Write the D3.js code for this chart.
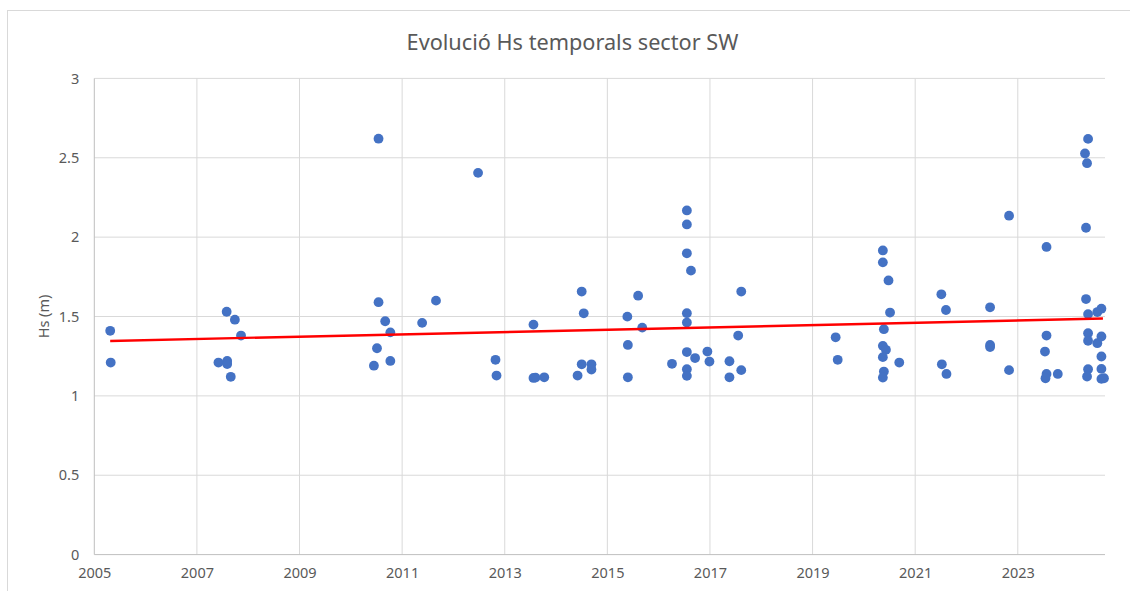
<!DOCTYPE html>
<html>
<head>
<meta charset="utf-8">
<script src="https://cdn.jsdelivr.net/npm/d3@7"></script>
<style>
  body { margin: 0; background: #fff; }
  text { font-family: "Noto Sans", "Open Sans", sans-serif; fill: #595959; }
</style>
</head>
<body>
<script>
// values (decimal year, Hs in metres)
const years = [
  2005.31, 2005.32,
  2007.42, 2007.58, 2007.59, 2007.59, 2007.66, 2007.74, 2007.86,
  2010.45, 2010.51, 2010.54, 2010.54, 2010.67, 2010.77, 2010.77,
  2011.39, 2011.66,
  2012.48, 2012.82, 2012.84,
  2013.56, 2013.56, 2013.60, 2013.77,
  2014.42, 2014.50, 2014.50, 2014.54, 2014.69, 2014.69,
  2015.39, 2015.40, 2015.40, 2015.60, 2015.68,
  2016.26, 2016.55, 2016.55, 2016.55, 2016.63, 2016.55, 2016.55, 2016.55, 2016.55, 2016.55,
  2016.71, 2016.95, 2016.99,
  2017.38, 2017.38, 2017.55, 2017.61, 2017.61,
  2019.45, 2019.49,
  2020.37, 2020.37, 2020.48, 2020.51, 2020.39, 2020.37, 2020.43, 2020.37, 2020.69, 2020.39, 2020.37,
  2021.51, 2021.60, 2021.52, 2021.61,
  2022.46, 2022.46, 2022.46, 2022.83, 2022.83,
  2023.56, 2023.56, 2023.53, 2023.56, 2023.54, 2023.78,
  2024.37, 2024.31, 2024.35, 2024.33, 2024.33, 2024.37, 2024.37, 2024.37, 2024.37, 2024.35,
  2024.55, 2024.55,
  2024.63, 2024.63, 2024.63, 2024.63, 2024.63, 2024.68
];
const hs = [
  1.41, 1.21,
  1.21, 1.53, 1.22, 1.20, 1.12, 1.48, 1.38,
  1.19, 1.30, 2.62, 1.59, 1.47, 1.40, 1.22,
  1.46, 1.60,
  2.405, 1.227, 1.128,
  1.449, 1.113, 1.115, 1.117,
  1.128, 1.199, 1.657, 1.520, 1.199, 1.166,
  1.499, 1.321, 1.117, 1.631, 1.430,
  1.202, 2.168, 2.080, 1.898, 1.789, 1.521, 1.462, 1.276, 1.168, 1.126,
  1.238, 1.279, 1.216,
  1.218, 1.117, 1.380, 1.657, 1.162,
  1.369, 1.227,
  1.916, 1.841, 1.727, 1.525, 1.420, 1.315, 1.290, 1.244, 1.210, 1.153, 1.115,
  1.640, 1.541, 1.199, 1.138,
  1.558, 1.321, 1.308, 2.135, 1.162,
  1.938, 1.380, 1.279, 1.138, 1.111, 1.138,
  2.619, 2.527, 2.466, 2.059, 1.610, 1.515, 1.395, 1.347, 1.168, 1.122,
  1.528, 1.332,
  1.549, 1.374, 1.248, 1.170, 1.107, 1.111
];
// linear trendline end points as drawn
const trendYears = [2005.31, 2024.66];
const trendHs = [1.346, 1.487];

const xTicks = [2005, 2007, 2009, 2011, 2013, 2015, 2017, 2019, 2021, 2023];
const yTicks = [0, 0.5, 1, 1.5, 2, 2.5, 3];

const titleText = "Evolució Hs temporals sector SW";
const yTitle = "Hs (m)";

const W = 1130, H = 591;
const plot = { left: 94.3, right: 1105, top: 78.4, bottom: 554.6 };

const svg = d3.select("body").append("svg")
  .attr("width", W)
  .attr("height", H);

// chart area border
svg.append("rect")
  .attr("x", 7.5).attr("y", 10.5)
  .attr("width", W + 10).attr("height", H + 10)
  .attr("fill", "#fff")
  .attr("stroke", "#d9d9d9")
  .attr("stroke-width", 1);

const x = d3.scaleLinear().domain([2005, 2024.70]).range([plot.left, plot.right]);
const y = d3.scaleLinear().domain([0, 3]).range([plot.bottom, plot.top]);

// gridlines
svg.append("g").selectAll("line")
  .data(yTicks.filter(d => d > 0))
  .join("line")
  .attr("x1", plot.left).attr("x2", plot.right)
  .attr("y1", d => y(d)).attr("y2", d => y(d))
  .attr("stroke", "#d9d9d9").attr("stroke-width", 1);

svg.append("g").selectAll("line")
  .data(xTicks.filter(d => d > 2005))
  .join("line")
  .attr("x1", d => x(d)).attr("x2", d => x(d))
  .attr("y1", plot.top).attr("y2", plot.bottom)
  .attr("stroke", "#d9d9d9").attr("stroke-width", 1);

// axis lines
svg.append("line")
  .attr("x1", plot.left).attr("x2", plot.right)
  .attr("y1", plot.bottom).attr("y2", plot.bottom)
  .attr("stroke", "#bfbfbf").attr("stroke-width", 1);
svg.append("line")
  .attr("x1", plot.left).attr("x2", plot.left)
  .attr("y1", plot.top).attr("y2", plot.bottom)
  .attr("stroke", "#bfbfbf").attr("stroke-width", 1);

// axes (labels only)
const xAxis = svg.append("g")
  .attr("transform", `translate(0, ${plot.bottom})`)
  .call(d3.axisBottom(x).tickValues(xTicks).tickSize(0).tickPadding(13).tickFormat(d3.format("d")));
xAxis.select(".domain").remove();
xAxis.selectAll("text")
  .attr("fill", "#595959")
  .style("font-size", "14.5px")
  .style("font-family", "'Noto Sans', 'Open Sans', sans-serif");

const yAxis = svg.append("g")
  .attr("transform", `translate(${plot.left}, 0)`)
  .call(d3.axisLeft(y).tickValues(yTicks).tickSize(0).tickPadding(15).tickFormat(d => String(d)));
yAxis.select(".domain").remove();
yAxis.selectAll("text")
  .attr("fill", "#595959")
  .style("font-size", "14.5px")
  .style("font-family", "'Noto Sans', 'Open Sans', sans-serif");

// y axis title
svg.append("text")
  .attr("transform", `translate(49, ${(plot.top + plot.bottom) / 2}) rotate(-90)`)
  .attr("text-anchor", "middle")
  .style("font-size", "14.5px")
  .text(yTitle);

// points
const pts = years.map((d, i) => ({ year: d, hs: hs[i] }));
svg.append("g").selectAll("circle")
  .data(pts)
  .join("circle")
  .attr("cx", d => x(d.year))
  .attr("cy", d => y(d.hs))
  .attr("r", 4.9)
  .attr("fill", "#4472c4");

// trendline
const trend = trendYears.map((d, i) => ({ year: d, hs: trendHs[i] }));
svg.append("path")
  .datum(trend)
  .attr("d", d3.line().x(d => x(d.year)).y(d => y(d.hs)))
  .attr("fill", "none")
  .attr("stroke", "#ff0000")
  .attr("stroke-width", 2.4);

// title, sized to the width it has in the picture
const title = svg.append("text")
  .attr("x", 572.5)
  .attr("y", 50)
  .attr("text-anchor", "middle")
  .style("font-size", "20px")
  .text(titleText);
const tw = title.node().getComputedTextLength();
title.style("font-size", (20 * 332 / tw).toFixed(2) + "px");
</script>
</body>
</html>
